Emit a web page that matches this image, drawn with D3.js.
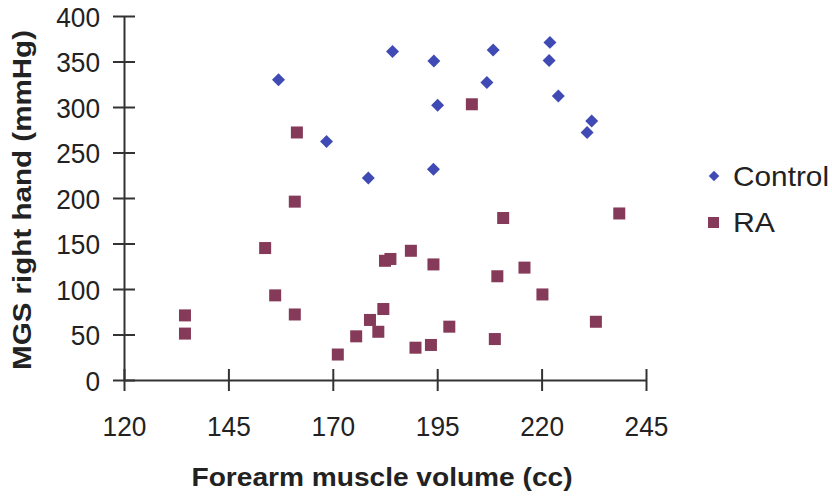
<!DOCTYPE html>
<html><head><meta charset="utf-8">
<script src="https://cdn.jsdelivr.net/npm/d3@7"></script>
<style>body{margin:0;background:#fff}svg{display:block}</style>
</head><body><svg id="c" width="832" height="496"></svg>
<script>
const controlX = [157, 168.5, 178.5, 184.3, 194.2, 195.1, 194.1, 206.9, 208.4, 222, 221.8, 224, 232, 230.9];
const controlY = [330, 262, 222, 361, 350.5, 302, 231.5, 327, 362.6, 371, 351, 312, 284.6, 272];
const raX = [134.6, 134.6, 153.8, 156.2, 160.9, 160.9, 161.4, 171.2, 175.6, 178.9, 180.9, 182.1, 182.5, 183.8, 188.7, 189.8, 193.5, 194.1, 197.9, 203.3, 208.8, 209.4, 210.8, 215.9, 220.2, 233, 238.6];
const raY = [71, 51, 145, 93, 72, 196, 272, 28, 48, 66, 53, 78, 131, 133, 142, 35.5, 38.5, 127, 58.6, 303, 45, 114, 178, 123.5, 94, 64, 183];
const xTicks = [120, 145, 170, 195, 220, 245];
const yTicks = [0, 50, 100, 150, 200, 250, 300, 350, 400];
const seriesNames = ["Control", "RA"];
const colors = ["#3f4ab4", "#843a58"];

const svg = d3.select("#c");
const x = d3.scaleLinear().domain([120, 245]).range([124, 646]);
const y = d3.scaleLinear().domain([0, 400]).range([380, 16]);
const font = "'Liberation Sans', Arial, sans-serif";

const xa = svg.append("g").attr("transform", "translate(0,380)")
  .call(d3.axisBottom(x).tickValues(xTicks).tickSize(0).tickPadding(0).tickFormat(d3.format("d")));
xa.selectAll(".tick line").attr("y1", -11).attr("y2", 11);
const ya = svg.append("g").attr("transform", "translate(124,0)")
  .call(d3.axisLeft(y).tickValues(yTicks).tickSize(0).tickPadding(0));
ya.selectAll(".tick line").attr("x1", -11).attr("x2", 11);
[xa, ya].forEach(a => {
  a.select(".domain").attr("stroke", "#333").attr("stroke-width", 2);
  a.selectAll(".tick line").attr("stroke", "#333").attr("stroke-width", 2);
  a.selectAll("text").attr("font-family", font).attr("font-size", 28).attr("fill", "#222")
    .attr("textLength", function () { return this.textContent.length * 14.6; })
    .attr("lengthAdjust", "spacingAndGlyphs");
});
xa.selectAll("text").attr("y", 46).attr("dy", "0.36em").attr("text-anchor", "middle");
ya.selectAll("text").attr("x", -24).attr("dy", "0.36em").attr("text-anchor", "end");

svg.append("text").attr("x", 382).attr("y", 486).attr("text-anchor", "middle")
  .attr("font-family", font).attr("font-weight", "bold").attr("font-size", 25)
  .attr("textLength", 381).attr("lengthAdjust", "spacingAndGlyphs")
  .attr("fill", "#222").text("Forearm muscle volume (cc)");
svg.append("text").attr("transform", "translate(31,200) rotate(-90)").attr("text-anchor", "middle")
  .attr("font-family", font).attr("font-weight", "bold").attr("font-size", 25)
  .attr("textLength", 340).attr("lengthAdjust", "spacingAndGlyphs")
  .attr("fill", "#222").text("MGS right hand (mmHg)");

const diamond = d3.symbol().type(d3.symbolSquare).size(84);
svg.append("g").selectAll("path").data(controlX.map((v, i) => [v, controlY[i]])).join("path")
  .attr("d", diamond)
  .attr("transform", d => `translate(${x(d[0])},${y(d[1])}) rotate(45)`)
  .attr("fill", colors[0]);
svg.append("g").selectAll("rect").data(raX.map((v, i) => [v, raY[i]])).join("rect")
  .attr("x", d => x(d[0]) - 6).attr("y", d => y(d[1]) - 6)
  .attr("width", 12).attr("height", 12).attr("fill", colors[1]);

// legend
const lg = svg.append("g");
lg.append("path").attr("d", d3.symbol().type(d3.symbolSquare).size(55)())
  .attr("transform", "translate(714,176) rotate(45)").attr("fill", colors[0]);
lg.append("rect").attr("x", 708).attr("y", 217).attr("width", 11).attr("height", 11).attr("fill", colors[1]);
const legLens = [96, 42];
[176, 222].forEach((yy, i) => {
  lg.append("text").attr("x", 733).attr("y", yy).attr("dy", "0.36em")
    .attr("font-family", font).attr("font-size", 28).attr("fill", "#222")
    .attr("textLength", legLens[i]).attr("lengthAdjust", "spacingAndGlyphs")
    .text(seriesNames[i]);
});
</script></body></html>
